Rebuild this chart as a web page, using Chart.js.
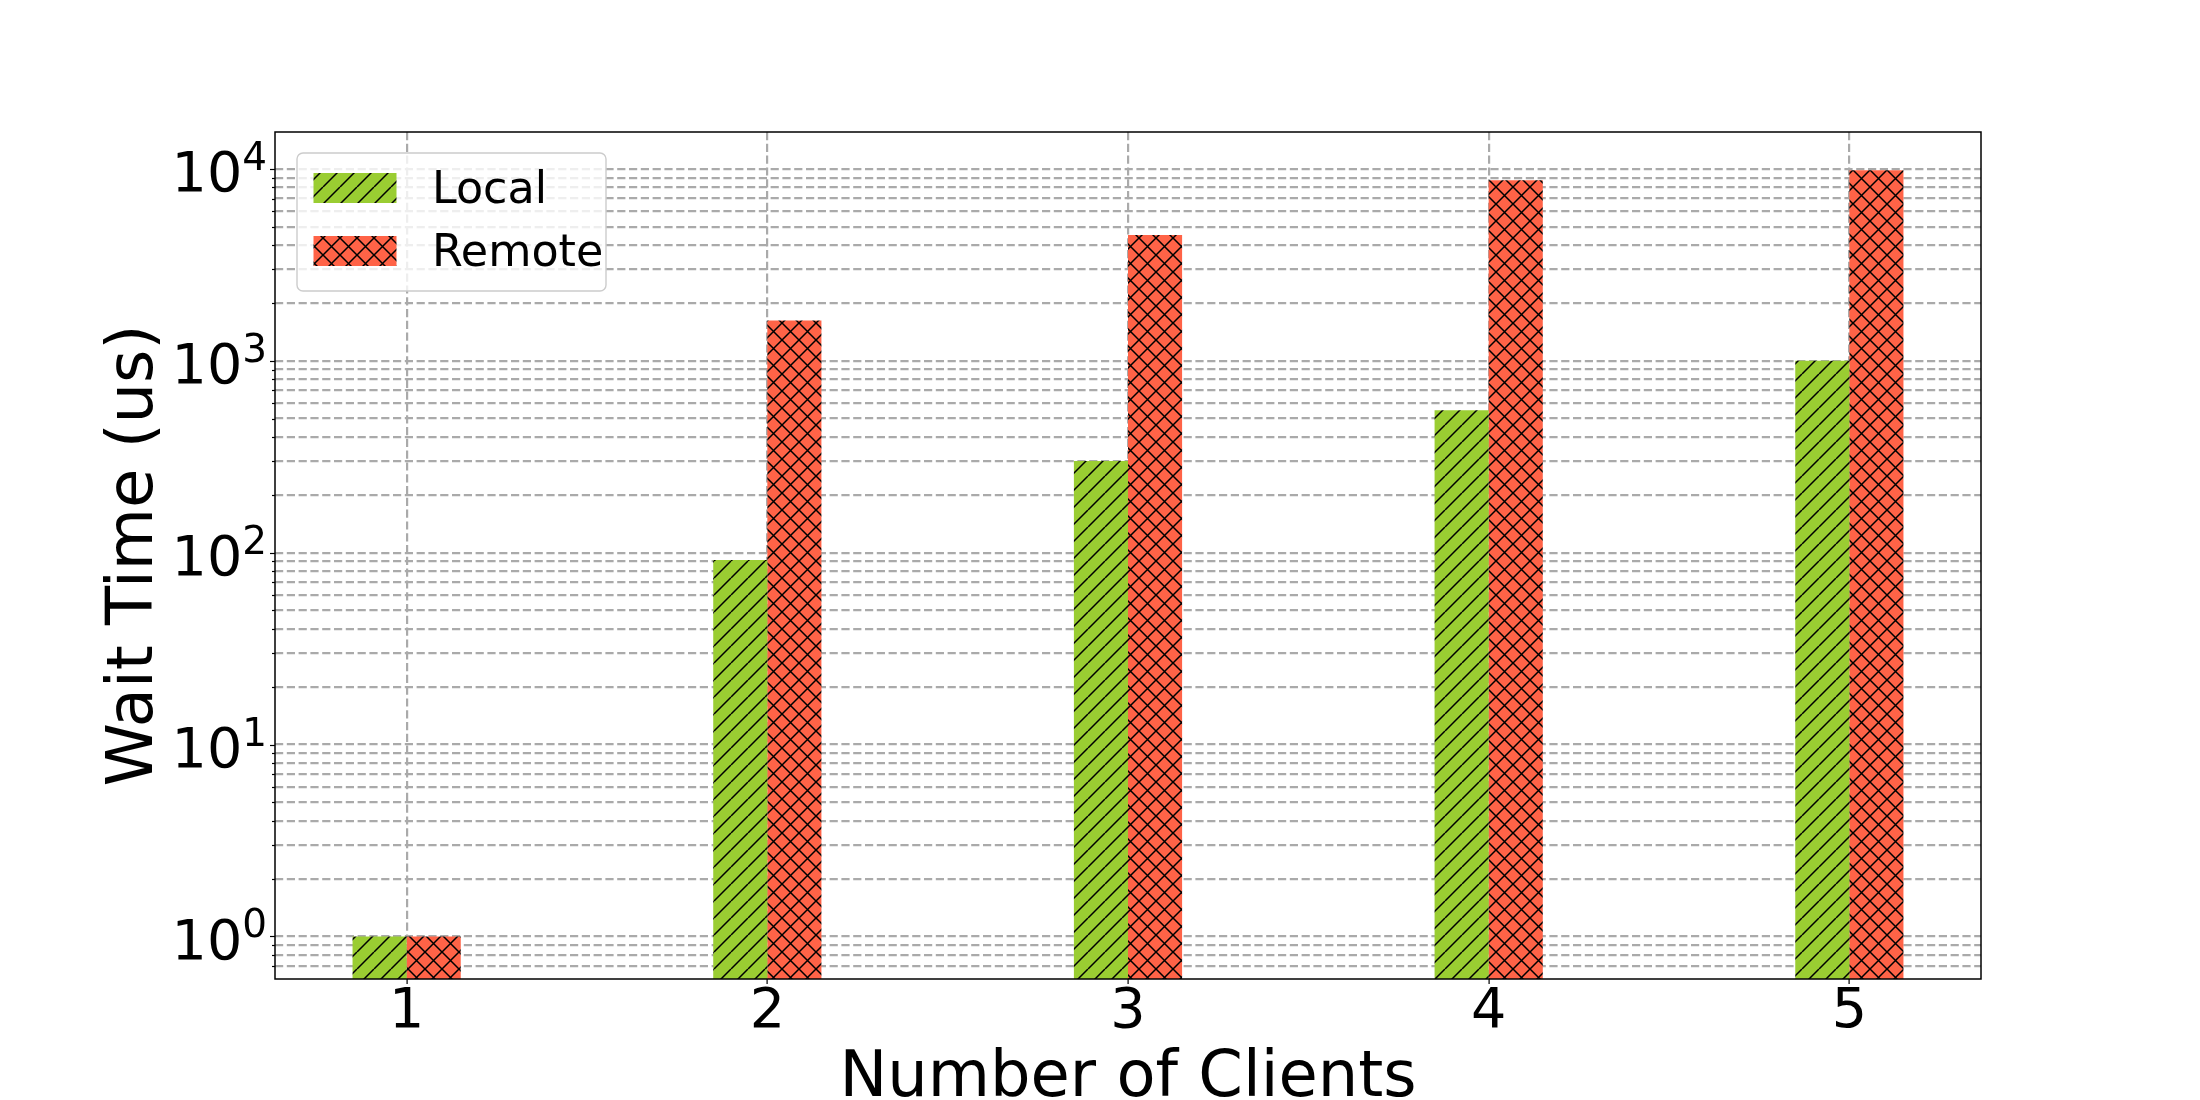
<!DOCTYPE html>
<html>
<head>
<meta charset="utf-8">
<script src="https://cdn.jsdelivr.net/npm/chart.js@4/dist/chart.umd.min.js"></script>
<style>
  html, body { margin: 0; padding: 0; background: #fff; }
  canvas { display: block; }
</style>
</head>
<body>
<canvas id="chart" width="2200" height="1100"></canvas>
<script>
const clients = [1, 2, 3, 4, 5]
const localWait = [1, 91.5, 300, 552, 1000]
const remoteWait = [1, 1620, 4520, 8710, 9820]
const seriesNames = ['Local', 'Remote']
const yGridValues = [
  0.7, 0.8, 0.9,
  1, 2, 3, 4, 5, 6, 7, 8, 9,
  10, 20, 30, 40, 50, 60, 70, 80, 90,
  100, 200, 300, 400, 500, 600, 700, 800, 900,
  1000, 2000, 3000, 4000, 5000, 6000, 7000, 8000, 9000,
  10000
]
const yLabelValues = [1, 10, 100, 1000, 10000]

const FONT = '"DejaVu Sans", sans-serif'
const canvas = document.getElementById('chart')
const ctx = canvas.getContext('2d')

// matplotlib-style hatches: '/' for local, 'x' for remote
const hatch = (color, cross) => {
  const s = 17
  const tile = document.createElement('canvas')
  tile.width = s
  tile.height = s
  const g = tile.getContext('2d')
  g.fillStyle = color
  g.fillRect(0, 0, s, s)
  g.strokeStyle = '#000'
  g.lineWidth = 1.5
  g.beginPath()
  for (const k of [-s, 0, s]) {
    g.moveTo(k, s)
    g.lineTo(k + s, 0)
    if (cross) {
      g.moveTo(k, 0)
      g.lineTo(k + s, s)
    }
  }
  g.stroke()
  return ctx.createPattern(tile, 'repeat')
}

const localFill = hatch('#9acd32', false)
const remoteFill = hatch('#ff6347', true)

const decorations = {
  id: 'decorations',
  afterDraw(chart) {
    const { ctx, chartArea: a, scales: { y } } = chart
    ctx.save()

    // spines
    ctx.strokeStyle = '#000'
    ctx.lineWidth = 1.5
    ctx.strokeRect(a.left, a.top, a.right - a.left, a.bottom - a.top)

    // y tick marks, major and minor
    ctx.lineWidth = 1.2
    y.ticks.forEach(t => {
      const py = Math.round(y.getPixelForValue(t.value)) + 0.5
      const len = yLabelValues.includes(t.value) ? 5 : 3
      ctx.beginPath()
      ctx.moveTo(a.left - len, py)
      ctx.lineTo(a.left, py)
      ctx.stroke()
    })

    // y tick labels 10^n
    ctx.fillStyle = '#000'
    ctx.textAlign = 'right'
    ctx.textBaseline = 'alphabetic'
    yLabelValues.forEach(v => {
      const py = y.getPixelForValue(v)
      const exp = String(Math.round(Math.log10(v)))
      const right = a.left - 8
      ctx.font = `38.9px ${FONT}`
      const expW = ctx.measureText(exp).width
      ctx.fillText(exp, right, py + 1)
      ctx.font = `55.6px ${FONT}`
      ctx.fillText('10', right - expW, py + 22.5)
    })

    // axis titles
    ctx.font = `63.9px ${FONT}`
    ctx.textAlign = 'center'
    ctx.fillText('Number of Clients', (a.left + a.right) / 2, a.bottom + 117)
    ctx.save()
    ctx.translate(a.left - 123, (a.top + a.bottom) / 2)
    ctx.rotate(-Math.PI / 2)
    ctx.fillText('Wait Time (us)', 0, 0)
    ctx.restore()

    // legend
    const bx = a.left + 22, by = a.top + 21, bw = 309, bh = 138
    ctx.beginPath()
    ctx.roundRect(bx, by, bw, bh, 6)
    ctx.fillStyle = 'rgba(255,255,255,0.8)'
    ctx.fill()
    ctx.strokeStyle = '#cccccc'
    ctx.lineWidth = 1.4
    ctx.stroke()

    const fills = [localFill, remoteFill]
    ctx.font = `44.4px ${FONT}`
    ctx.textAlign = 'left'
    seriesNames.forEach((name, i) => {
      const py = by + 20 + i * 63
      ctx.fillStyle = fills[i]
      ctx.fillRect(bx + 16.5, py, 83, 30)
      ctx.fillStyle = '#000'
      ctx.fillText(name, bx + 135, py + 30)
    })

    ctx.restore()
  }
}

const gridStyle = {
  color: '#aaaaaa',
  lineWidth: 2.2
}

new Chart(canvas, {
  type: 'bar',
  data: {
    labels: clients,
    datasets: [
      { label: seriesNames[0], data: localWait, backgroundColor: localFill, borderWidth: 0 },
      { label: seriesNames[1], data: remoteWait, backgroundColor: remoteFill, borderWidth: 0 }
    ]
  },
  options: {
    responsive: false,
    animation: false,
    devicePixelRatio: 1,
    layout: { padding: { top: 132, right: 219, left: 0, bottom: 0 } },
    datasets: { bar: { categoryPercentage: 0.3, barPercentage: 1 } },
    plugins: {
      legend: { display: false },
      tooltip: { enabled: false }
    },
    scales: {
      x: {
        type: 'linear',
        min: 0.635,
        max: 5.365,
        offset: false,
        z: 1,
        afterBuildTicks: s => { s.ticks = clients.map(v => ({ value: v })) },
        afterFit: s => { s.height = 121 },
        grid: { ...gridStyle, offset: false, drawTicks: true, tickLength: 5, tickColor: '#000', tickWidth: 1.2 },
        border: { display: false, dash: [8.2, 3.6] },
        ticks: {
          color: '#000',
          padding: 1,
          font: { family: FONT, size: 55.6, lineHeight: 1 },
          callback: v => String(v)
        }
      },
      y: {
        type: 'logarithmic',
        min: 0.635,
        max: 15560,
        z: 1,
        afterBuildTicks: s => { s.ticks = yGridValues.map(v => ({ value: v })) },
        afterFit: s => { s.width = 275 },
        grid: { ...gridStyle, drawTicks: false },
        border: { display: false, dash: [8.2, 3.6] },
        ticks: { display: false }
      }
    }
  },
  plugins: [decorations]
})
</script>
</body>
</html>
